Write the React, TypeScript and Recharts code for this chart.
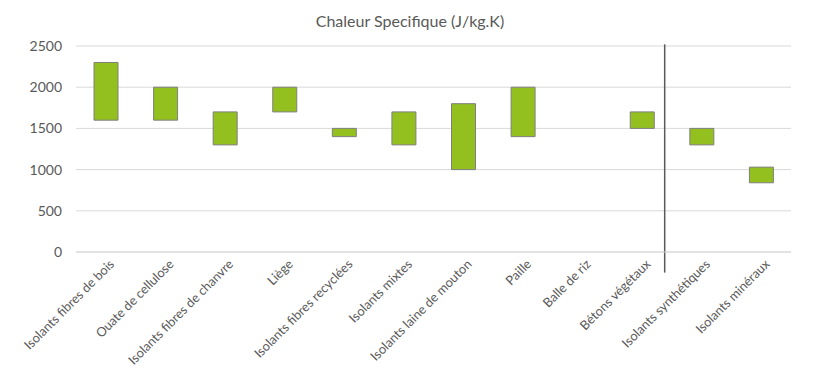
import React from 'react';
import { BarChart, Bar, XAxis, YAxis, CartesianGrid, ReferenceLine } from 'recharts';

const categories = [
  'Isolants fibres de bois',
  'Ouate de cellulose',
  'Isolants fibres de chanvre',
  'Liège',
  'Isolants fibres recyclées',
  'Isolants mixtes',
  'Isolants laine de mouton',
  'Paille',
  'Balle de riz',
  'Bétons végétaux',
  'Isolants synthétiques',
  'Isolants minéraux',
];
const minValues = [1600, 1600, 1300, 1700, 1400, 1300, 1000, 1400, null, 1500, 1300, 840];
const maxValues = [2300, 2000, 1700, 2000, 1500, 1700, 1800, 2000, null, 1700, 1500, 1030];
const yTicks = [0, 500, 1000, 1500, 2000, 2500];
// separator between bio-based and conventional insulants
const separatorX = 9.88;

const data = categories.map((name, i) => ({
  name,
  idx: i + 0.5,
  range: minValues[i] == null ? null : [minValues[i], maxValues[i]],
}));

const FONT = 'Lato, "Open Sans", sans-serif';

const XTick = (props: any) => {
  const { x, y, payload } = props;
  return (
    <g transform={`translate(${x},${y})`}>
      <text
        x={3}
        y={10}
        transform="rotate(-45)"
        textAnchor="end"
        fill="#595959"
        fontSize={12.8}
        fontFamily={FONT}
      >
        {payload.value}
      </text>
    </g>
  );
};

export default function App() {
  return (
    <div style={{ position: 'absolute', left: 0, top: 0, width: 820, height: 380, background: '#fff' }}>
      <div
        style={{
          position: 'absolute',
          top: 11,
          width: 820,
          textAlign: 'center',
          fontFamily: FONT,
          fontSize: 16,
          color: '#595959',
        }}
      >
        Chaleur Specifique (J/kg.K)
      </div>
      <BarChart width={820} height={380} data={data} margin={{ top: 46, right: 29, left: 0, bottom: 0 }}>
        <CartesianGrid vertical={false} stroke="#d9d9d9" />
        <XAxis
          dataKey="name"
          interval={0}
          height={128}
          axisLine={{ stroke: '#d9d9d9' }}
          tickLine={false}
          tick={<XTick />}
        />
        <XAxis xAxisId="pos" type="number" dataKey="idx" domain={[0, 12]} hide />
        <YAxis
          domain={[0, 2500]}
          ticks={yTicks}
          width={76}
          axisLine={false}
          tickLine={false}
          tickMargin={8}
          tick={{ fill: '#595959', fontSize: 14, fontFamily: FONT }}
        />
        <Bar dataKey="range" fill="#93c01f" stroke="#7f7f7f" strokeWidth={1} barSize={24} isAnimationActive={false} />
        <ReferenceLine
          xAxisId="pos"
          segment={[{ x: separatorX, y: -250 }, { x: separatorX, y: 2520 }]}
          stroke="#595959"
          strokeWidth={1.5}
          ifOverflow="visible"
        />
      </BarChart>
    </div>
  );
}
